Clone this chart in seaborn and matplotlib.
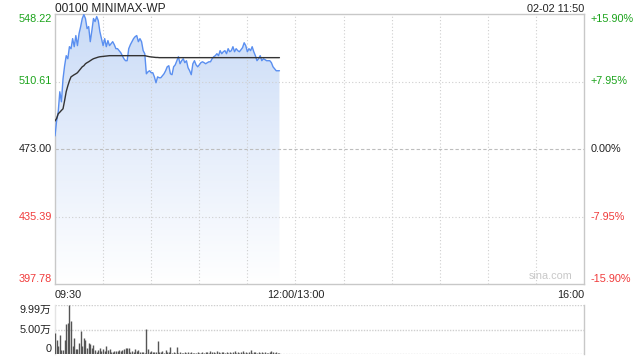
import numpy as np
import pandas as pd
import matplotlib
matplotlib.use("Agg")
import matplotlib.pyplot as plt
import matplotlib.transforms as mtransforms
from matplotlib.colors import LinearSegmentedColormap
import seaborn as sns

# ---------------- data ----------------
title = "00100 MINIMAX-WP"
stamp = "02-02 11:50"
prev_close = 473.00
price_ticks = [397.78, 435.39, 473.00, 510.61, 548.22]
pct_labels = ["-15.90%", "-7.95%", "0.00%", "+7.95%", "+15.90%"]
time_labels = ["09:30", "12:00/13:00", "16:00"]
time_pos = [0, 150, 330]

price = [480.3, 488.6, 493.7, 504.9, 499.3, 512.1, 519.4, 525.0, 523.3, 530.0,
         528.9, 534.5, 530.0, 536.2, 530.6, 537.3, 541.2, 545.7, 547.9, 545.7,
         540.1, 541.2, 532.8, 539.0, 545.7, 544.0, 546.8, 544.5, 538.4, 534.5,
         530.6, 534.5, 530.0, 533.4, 530.6, 531.7, 532.8, 531.1, 528.9, 528.9,
         527.8, 526.7, 525.0, 523.3, 522.2, 522.2, 528.9, 531.1, 532.8, 534.5,
         535.6, 536.2, 532.8, 534.5, 532.8, 527.8, 526.1, 514.9, 516.0, 516.6,
         515.5, 515.5, 513.2, 509.9, 513.2, 512.7, 512.7, 513.8, 514.9, 516.6,
         518.8, 519.4, 514.9, 514.4, 518.8, 519.9, 522.2, 524.4, 520.5, 522.2,
         523.3, 521.1, 522.2, 518.3, 516.6, 514.4, 520.5, 522.2, 519.9, 518.8,
         519.9, 521.1, 521.6, 521.1, 520.5, 521.1, 521.6, 521.6, 523.3, 524.4,
         525.0, 526.1, 525.0, 527.8, 526.1, 527.2, 527.8, 526.1, 528.9, 527.2,
         527.8, 530.0, 527.2, 528.9, 527.8, 527.2, 528.3, 529.5, 532.2, 530.6,
         527.2, 528.9, 527.8, 530.0, 527.2, 525.0, 522.2, 523.3, 525.0, 522.2,
         523.3, 522.8, 522.2, 522.2, 522.2, 521.1, 518.8, 517.7, 516.6, 516.6,
         516.6]

avg = [488.6, 490.0, 492.6, 493.5, 494.5, 495.4, 500.0, 505.0, 508.2, 511.0,
       513.2, 513.8, 514.4, 514.9, 515.5, 516.6, 517.7, 518.8, 519.4, 520.5,
       521.1, 521.6, 522.2, 522.8, 523.3, 523.6, 523.9, 524.2, 524.4, 524.5,
       524.6, 524.7, 524.8, 524.9, 525.0, 525.0, 525.0, 525.0, 525.0, 525.0,
       525.0, 525.0, 525.0, 525.0, 525.0, 525.0, 525.0, 525.0, 525.0, 525.0,
       525.0, 525.0, 525.0, 525.0, 525.0, 525.0, 525.0, 524.8, 524.6, 524.4,
       524.3, 524.2, 524.1, 524.0, 524.0, 523.9, 523.9, 523.9, 523.9, 523.9,
       523.9, 523.9, 523.9, 523.9, 523.9, 523.9, 523.9, 523.9, 523.9, 523.9,
       523.9, 523.9, 523.9, 523.9, 523.9, 523.9, 523.9, 523.9, 523.9, 523.9,
       523.9, 523.9, 523.9, 523.9, 523.9, 523.9, 523.9, 523.9, 523.9, 523.9,
       523.9, 523.9, 523.9, 523.9, 523.9, 523.9, 523.9, 523.9, 523.9, 523.9,
       523.9, 523.9, 523.9, 523.9, 523.9, 523.9, 523.9, 523.9, 523.9, 523.9,
       523.9, 523.9, 523.9, 523.9, 523.9, 523.9, 523.9, 523.9, 523.9, 523.9,
       523.9, 523.9, 523.9, 523.9, 523.9, 523.9, 523.9, 523.9, 523.9, 523.9,
       523.9]

# volume in 万 (10k)
volume = [4.4, 2.8, 1.7, 3.9, 0.9, 0.9, 2.9, 6.1, 6.4, 9.99,
          6.8, 1.6, 3.3, 1.0, 1.0, 2.2, 4.8, 1.7, 3.4, 2.9,
          1.2, 2.2, 2.1, 1.2, 1.9, 0.9, 0.5, 0.9, 1.2, 0.7,
          1.0, 0.7, 1.6, 0.9, 1.1, 0.5, 0.5, 0.7, 0.7, 0.7,
          0.9, 0.7, 0.9, 1.0, 1.2, 1.2, 1.2, 0.4, 0.7, 0.4,
          1.0, 0.7, 0.9, 0.4, 0.4, 0.4, 0.3, 5.1, 1.1, 0.4,
          0.6, 0.4, 0.4, 0.5, 2.7, 0.4, 0.4, 0.7, 0.3, 0.9,
          0.4, 0.4, 1.5, 0.3, 0.5, 0.3, 1.5, 0.3, 0.4, 0.2,
          0.3, 0.4, 0.3, 0.5, 0.3, 0.4, 0.2, 0.3, 0.3, 0.4,
          0.3, 0.2, 0.4, 0.3, 0.5, 0.4, 0.3, 0.6, 0.4, 0.5,
          0.3, 0.6, 0.4, 0.3, 0.5, 0.4, 0.3, 0.4, 0.3, 0.5,
          0.3, 0.4, 0.6, 0.3, 0.4, 0.3, 0.5, 0.7, 0.3, 0.4,
          0.3, 0.5, 0.9, 0.3, 0.4, 0.5, 0.3, 0.4, 0.3, 0.5,
          0.3, 0.4, 0.3, 0.3, 0.4, 0.7, 0.5, 0.3, 0.4, 0.3,
          0.3]
vol_ticks = [0, 5.00, 9.99]
vol_labels = ["0", "5.00万", "9.99万"]

minutes = np.arange(len(price))
df = pd.DataFrame({"t": minutes, "price": price, "avg": avg, "vol": volume})

# ---------------- style ----------------
sns.set_style("white")
plt.rcParams["font.family"] = ["Liberation Sans", "Noto Sans CJK SC", "DejaVu Sans"]

GREEN = "#1aa31a"
RED = "#f03a3a"
DARK = "#222222"
GRID = "#cfcfcf"
SPINE = "#c8c8c8"
FS = 7.8

fig = plt.figure(figsize=(6.4, 3.6), dpi=100)
W, H = 640, 360
ax = fig.add_axes([55 / W, (H - 284) / H, 529 / W, 270 / H])
axv = fig.add_axes([55 / W, (H - 354.3) / H, 529 / W, 49.3 / H])

ymin, ymax = price_ticks[0], price_ticks[-1]
ax.set_xlim(0, 330)
ax.set_ylim(ymin, ymax)

# gradient fill under the price line
poly = ax.fill_between(df["t"], df["price"], ymin, facecolor="none", edgecolor="none")
cmap = LinearSegmentedColormap.from_list("g", ["#ffffff", "#e6eefb", "#c9dbf7"])
grad = np.linspace(0, 1, 256).reshape(-1, 1)
im = ax.imshow(grad, cmap=cmap, aspect="auto", origin="lower",
               extent=[0, 330, ymin, ymax], zorder=1)
im.set_clip_path(poly.get_paths()[0], transform=ax.transData)

sns.lineplot(data=df, x="t", y="price", ax=ax, color="#5a8ff0", lw=1.0, zorder=3)
sns.lineplot(data=df, x="t", y="avg", ax=ax, color="#333333", lw=1.0, zorder=4)

# grid (drawn over the fill, as in the reference)
for v in range(30, 330, 30):
    ax.axvline(v, color=GRID, lw=0.8, ls=(0, (1, 2)), zorder=2)
for v in price_ticks[1:-1]:
    if v == prev_close:
        ax.axhline(v, color="#bdbdbd", lw=0.8, ls=(0, (3, 2)), zorder=2)
    else:
        ax.axhline(v, color=GRID, lw=0.8, ls=(0, (1, 2)), zorder=2)

ax.set_xticks([])
ax.set_yticks([])
ax.set_xlabel("")
ax.set_ylabel("")
for s in ax.spines.values():
    s.set_color(SPINE)
    s.set_linewidth(1.0)

# y labels
bl = mtransforms.blended_transform_factory(ax.transAxes, ax.transData)
for i, (v, p) in enumerate(zip(price_ticks, pct_labels)):
    col = RED if v < prev_close else (GREEN if v > prev_close else DARK)
    va = "bottom" if i == 0 else ("top" if i == len(price_ticks) - 1 else "center")
    ax.text(-0.006, v, f"{v:.2f}", transform=bl, ha="right", va=va, color=col, fontsize=FS)
    ax.text(1.012, v, p, transform=bl, ha="left", va=va, color=col, fontsize=FS)

# time labels
tb = mtransforms.blended_transform_factory(ax.transData, ax.transAxes)
for lab, pos in zip(time_labels, time_pos):
    ha = "left" if pos == 0 else ("right" if pos == 330 else "center")
    ax.text(pos, -0.022, lab, transform=tb, ha=ha, va="top", color=DARK, fontsize=FS)

ax.text(0, 1.0074, title, transform=ax.transAxes, ha="left", va="baseline", color=DARK, fontsize=8.6)
ax.text(1, 1.0074, stamp, transform=ax.transAxes, ha="right", va="baseline", color=DARK, fontsize=FS)
ax.text(0.978, 0.01, "sina.com", transform=ax.transAxes, ha="right", va="bottom",
        color="#c8c8c8", fontsize=FS)

# ---------------- volume ----------------
axv.set_xlim(0, 330)
axv.set_ylim(0, vol_ticks[-1])
axv.vlines(df["t"], 0, df["vol"], color="#555555", lw=1.0, zorder=3)
for v in vol_ticks:
    axv.axhline(v, color=GRID, lw=1.0, ls=(0, (1, 1)), zorder=0.5)
axv.set_xticks([])
axv.set_yticks([])
for k in ["top", "bottom"]:
    axv.spines[k].set_visible(False)
for k in ["left", "right"]:
    axv.spines[k].set_color(SPINE)
    axv.spines[k].set_linewidth(1.0)
axv.spines["left"].set_color("#e4e4e4")
blv = mtransforms.blended_transform_factory(axv.transAxes, axv.transData)
for i, (v, lab) in enumerate(zip(vol_ticks, vol_labels)):
    va = "bottom" if i == 0 else ("top" if i == len(vol_ticks) - 1 else "center")
    axv.text(-0.006, v, lab, transform=blv, ha="right", va=va, color=DARK, fontsize=FS)

fig.savefig("out.png", dpi=100)
